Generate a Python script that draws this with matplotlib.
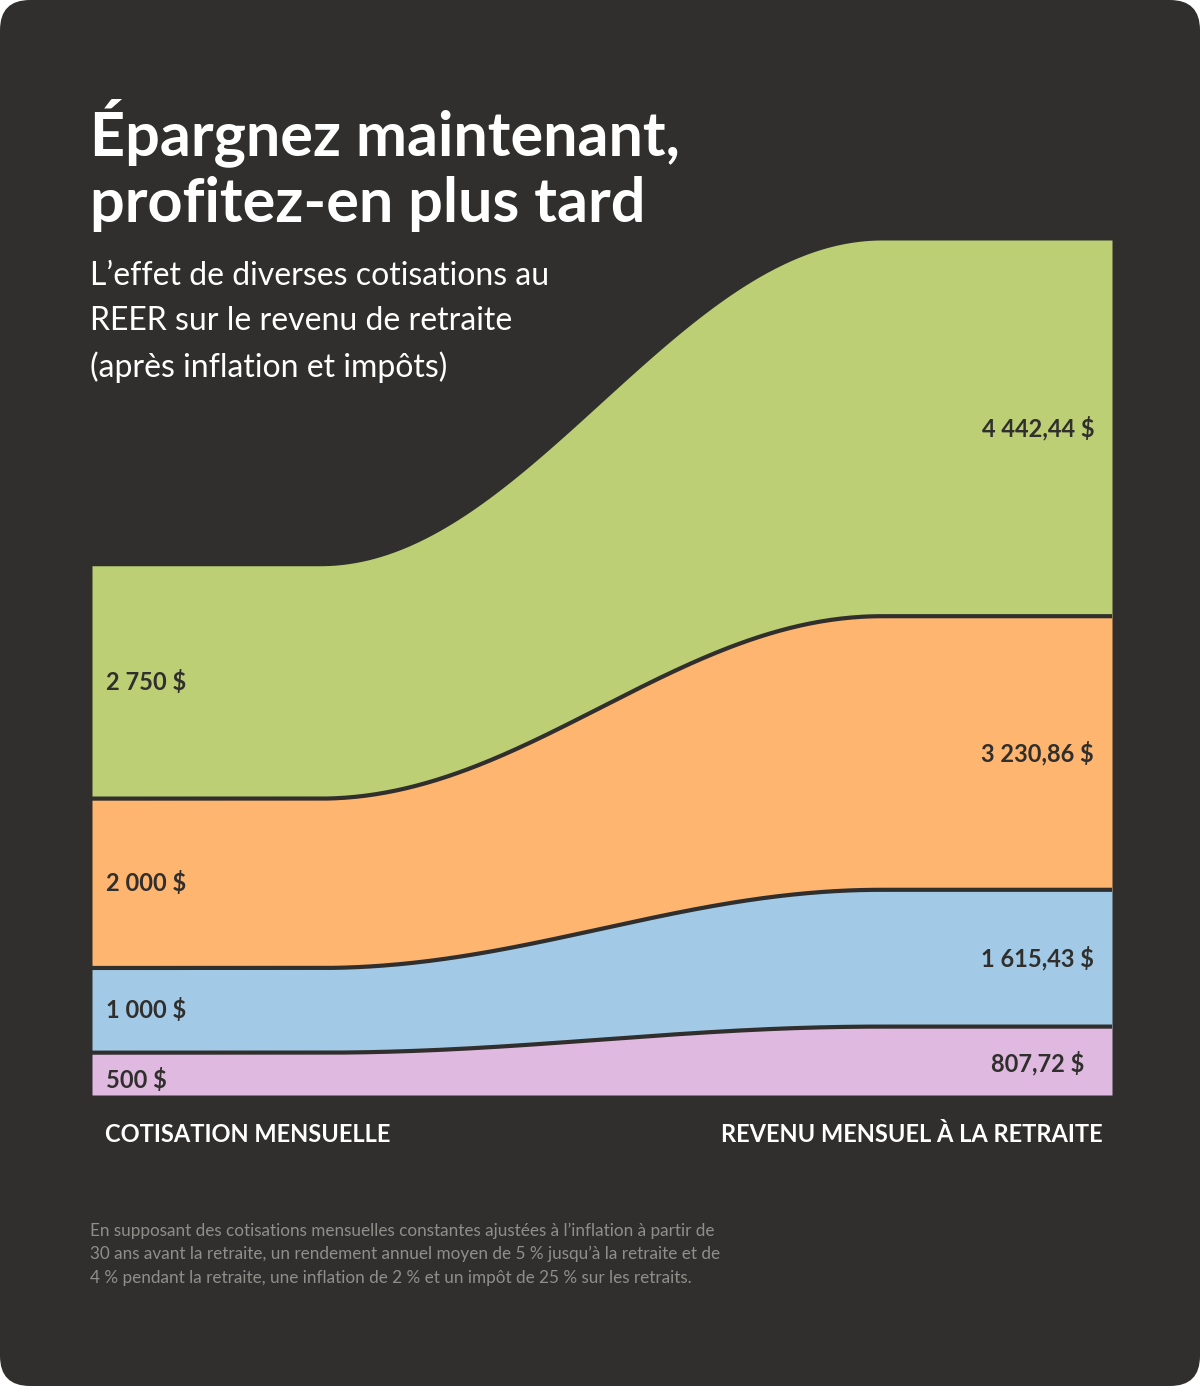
import numpy as np
import matplotlib.pyplot as plt
from matplotlib.patches import FancyBboxPatch

plt.rcParams['font.family'] = ['Lato', 'DejaVu Sans']

left_vals = [500, 1000, 2000, 2750]
right_vals = [807.72, 1615.43, 3230.86, 4442.44]
left_labels = ['500 $', '1 000 $', '2 000 $', '2 750 $']
right_labels = ['807,72 $', '1 615,43 $', '3 230,86 $', '4 442,44 $']
colors = ['#dfb9e0', '#a2cae6', '#feb56f', '#bccf74']
bg = '#302f2d'

W, H = 1200, 1386
fig = plt.figure(figsize=(12, 13.86), dpi=100, facecolor='white')
fig.patches.append(FancyBboxPatch((0, 0), 1, 1, boxstyle='round,pad=0,rounding_size=0.025',
                                  transform=fig.transFigure, facecolor=bg, edgecolor='none',
                                  mutation_aspect=W / H, zorder=-5))

x0, x1, bottom, top = 92, 1112, 1095, 240
ax = fig.add_axes([x0 / W, (H - bottom) / H, (x1 - x0) / W, (bottom - top) / H])
ax.set_facecolor('none')
ax.axis('off')

# x in pixels across; flat ends with smooth transition
x = np.linspace(0, 1020, 400)
xa, xb = 228, 790
t = np.clip((x - xa) / (xb - xa), 0, 1)
s = (1 - np.cos(np.pi * t)) / 2

lc = np.concatenate([[0], np.cumsum(left_vals)])
rc = np.concatenate([[0], np.cumsum(right_vals)])
for i in range(4):
    lo = lc[i] + (rc[i] - lc[i]) * s
    hi = lc[i + 1] + (rc[i + 1] - lc[i + 1]) * s
    ax.fill_between(x, lo, hi, color=colors[i], lw=0)
    if i > 0:
        ax.plot(x, lo, color=bg, lw=3)
ax.set_xlim(0, 1020)
ax.set_ylim(0, rc[-1])

for i in range(4):
    ly = (lc[i] + lc[i + 1]) / 2
    ry = (rc[i] + rc[i + 1]) / 2
    if i == 0:
        ly = lc[0] + 180
        ry = rc[0] + 380
    ax.text(14, ly, left_labels[i], fontsize=17, fontweight='bold', color=bg, va='center')
    ax.text(1002 - (10 if i == 0 else 0), ry, right_labels[i], fontsize=17, fontweight='bold',
            color=bg, va='center', ha='right')

fig.text(90 / W, 1 - 165 / H, 'Épargnez maintenant,\nprofitez-en plus tard', fontsize=44,
         fontweight='bold', color='white', va='center', linespacing=1.2)
fig.text(90 / W, 1 - 322 / H, 'L’effet de diverses cotisations au\nREER sur le revenu de retraite\n(après inflation et impôts)',
         fontsize=23, color='white', va='center', linespacing=1.6)
fig.text(105 / W, 1 - 1135 / H, 'COTISATION MENSUELLE', fontsize=17, fontweight='bold',
         color='white', va='center')
fig.text(1103 / W, 1 - 1135 / H, 'REVENU MENSUEL À LA RETRAITE', fontsize=17, fontweight='bold',
         color='white', va='center', ha='right')
fig.text(90 / W, 1 - 1254 / H,
         'En supposant des cotisations mensuelles constantes ajustées à l’inflation à partir de\n'
         '30 ans avant la retraite, un rendement annuel moyen de 5 % jusqu’à la retraite et de\n'
         '4 % pendant la retraite, une inflation de 2 % et un impôt de 25 % sur les retraits.',
         fontsize=12.3, color='#8f8e8b', va='center', linespacing=1.55)

fig.savefig('out.png', dpi=100, facecolor='white')
